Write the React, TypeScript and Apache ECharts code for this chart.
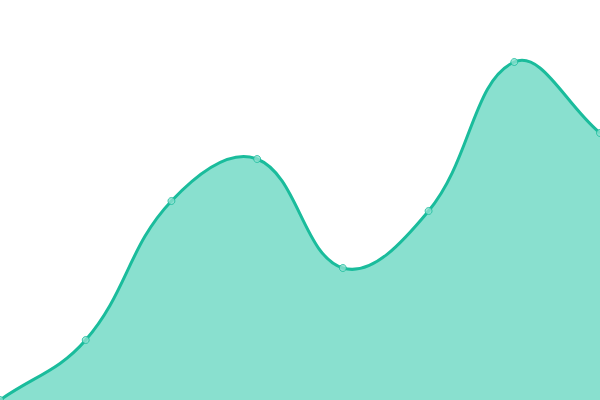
import { useEffect, useRef } from "react";
import * as echarts from "echarts";

const categories = ["A", "B", "C", "D", "E", "F", "G", "H"];
const values = [0, 60, 199, 241, 132, 189, 338, 267];

const TENSION = 0.4;

// spline with overshoot at the extremes (echarts' own smooth clamps them)
function splinePath(pts: number[][]) {
  const cps = pts.map((p, i) => {
    const prev = pts[i - 1] || p;
    const next = pts[i + 1] || p;
    const d01 = Math.hypot(p[0] - prev[0], p[1] - prev[1]);
    const d12 = Math.hypot(next[0] - p[0], next[1] - p[1]);
    let s01 = d01 / (d01 + d12);
    let s12 = d12 / (d01 + d12);
    if (isNaN(s01)) s01 = 0;
    if (isNaN(s12)) s12 = 0;
    const fa = TENSION * s01;
    const fb = TENSION * s12;
    return {
      prev: [p[0] - fa * (next[0] - prev[0]), p[1] - fa * (next[1] - prev[1])],
      next: [p[0] + fb * (next[0] - prev[0]), p[1] + fb * (next[1] - prev[1])],
    };
  });
  let d = `M${pts[0][0]},${pts[0][1]}`;
  for (let i = 1; i < pts.length; i++) {
    const a = cps[i - 1].next;
    const b = cps[i].prev;
    d += ` C${a[0]},${a[1]} ${b[0]},${b[1]} ${pts[i][0]},${pts[i][1]}`;
  }
  return d;
}

export default function App() {
  const ref = useRef<HTMLDivElement>(null);

  useEffect(() => {
    if (!ref.current) return;
    const chart = echarts.init(ref.current, null, { renderer: "svg" });
    chart.setOption({
      animation: false,
      grid: { top: 0, bottom: 0, left: 0, right: 0 },
      xAxis: {
        type: "category",
        data: categories,
        boundaryGap: false,
        show: false,
      },
      yAxis: { type: "value", min: 0, max: 400, show: false },
      series: [
        {
          type: "custom",
          data: values.map((v, i) => [i, v]),
          encode: { x: 0, y: 1 },
          z: 1,
          renderItem: (params: any, api: any) => {
            if (params.dataIndex !== 0) return null;
            const pts = values.map((v, i) => api.coord([i, v]));
            const base = api.coord([0, 0])[1];
            const line = splinePath(pts);
            const last = pts[pts.length - 1];
            const area = `${line} L${last[0]},${base} L${pts[0][0]},${base} Z`;
            return {
              type: "group",
              children: [
                { type: "path", shape: { pathData: area }, style: { fill: "#89e0cf" } },
                {
                  type: "path",
                  shape: { pathData: line },
                  style: { fill: "none", stroke: "#1abc9c", lineWidth: 3 },
                },
              ],
            };
          },
        },
        {
          type: "scatter",
          data: values,
          symbol: "circle",
          symbolSize: 7,
          z: 2,
          itemStyle: { color: "#8ce0cf", borderColor: "#1abc9c", borderWidth: 1 },
        },
      ],
    });
    return () => chart.dispose();
  }, []);

  return (
    <div
      ref={ref}
      style={{ position: "fixed", left: 0, top: 0, width: 600, height: 400 }}
    />
  );
}
